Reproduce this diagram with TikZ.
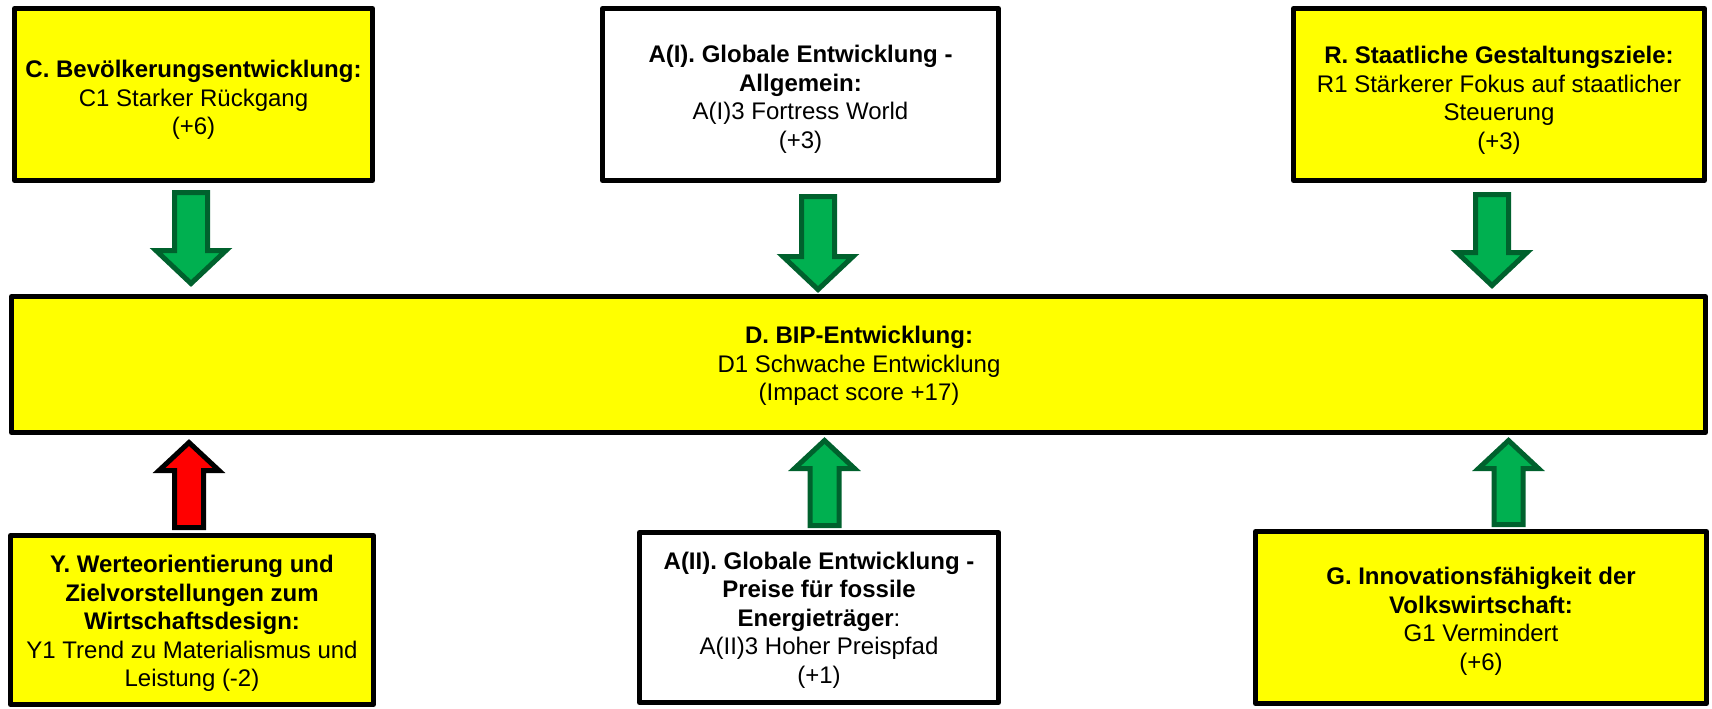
\documentclass[tikz,border=0pt]{standalone}
\usepackage{fontspec}
\setmainfont{Liberation Sans}
\usetikzlibrary{calc}

\definecolor{boxyellow}{RGB}{255,255,0}
\definecolor{arrowgreen}{RGB}{0,176,80}
\definecolor{arrowgreenline}{RGB}{0,97,45}
\definecolor{arrowred}{RGB}{255,0,0}

% Block arrow from a tail coordinate to a tip coordinate (vertical only).
% #1 style, #2 tail, #3 tip, #4 shaft half width, #5 head half width, #6 head length
\newcommand\blockarrow[6]{%
  \draw[#1] let \p1=(#2), \p2=(#3), \n1={sign(\y1-\y2)} in
    (\x1-#4,\y1) -- (\x1-#4,\y2+\n1*#6) -- (\x1-#5,\y2+\n1*#6) -- (\x2,\y2)
    -- (\x1+#5,\y2+\n1*#6) -- (\x1+#4,\y2+\n1*#6) -- (\x1+#4,\y1) -- cycle;}

\tikzset{
  factorbox/.style={draw=black, line width=2.5pt, line join=round, rectangle, inner sep=0pt},
  yellowbox/.style={factorbox, fill=boxyellow},
  whitebox/.style={factorbox, fill=white},
  boxtext/.style={align=center, inner sep=0pt, font=\fontsize{12}{14.25}\selectfont},
  greenarrow/.style={fill=arrowgreen, draw=arrowgreenline, line width=2.5pt, line join=miter},
  redarrow/.style={fill=arrowred, draw=black, line width=2.5pt, line join=miter},
}

\begin{document}
\begin{tikzpicture}[x=0.5pt,y=-0.5pt]
\useasboundingbox (0,0) rectangle (1712,708);

% top row
\node[yellowbox, minimum width=179pt, minimum height=86pt] (C) at (193.5,94.5) {};
\node[boxtext] (Ctext) at (193.5,100) {\textbf{C. Bevölkerungsentwicklung:}\\C1 Starker Rückgang\\(+6)};

\node[whitebox, minimum width=198pt, minimum height=86pt] (AI) at (800.5,94.5) {};
\node[boxtext] (AItext) at (800.5,99.5) {\textbf{A(I). Globale Entwicklung -}\\\textbf{Allgemein:}\\A(I)3 Fortress World\\(+3)};

\node[yellowbox, minimum width=205.5pt, minimum height=86pt] (R) at (1499,94.5) {};
\node[boxtext] (Rtext) at (1499,100.5) {\textbf{R. Staatliche Gestaltungsziele:}\\R1 Stärkerer Fokus auf staatlicher\\Steuerung\\(+3)};

% central factor
\node[yellowbox, minimum width=847pt, minimum height=68pt] (D) at (858.5,364.5) {};
\node[boxtext] (Dtext) at (859,366) {\textbf{D. BIP-Entwicklung:}\\D1 Schwache Entwicklung\\(Impact score +17)};

% bottom row
\node[yellowbox, minimum width=181.5pt, minimum height=84.5pt] (Y) at (192,620) {};
\node[boxtext] (Ytext) at (192,623.5) {\textbf{Y. Werteorientierung und}\\\textbf{Zielvorstellungen zum}\\\textbf{Wirtschaftsdesign:}\\Y1 Trend zu Materialismus und\\Leistung (-2)};

\node[whitebox, minimum width=179.5pt, minimum height=85pt] (AII) at (819,617.5) {};
\node[boxtext] (AIItext) at (819,620) {\textbf{A(II). Globale Entwicklung -}\\\textbf{Preise für fossile}\\\textbf{Energieträger}:\\A(II)3 Hoher Preispfad\\(+1)};

\node[yellowbox, minimum width=225.5pt, minimum height=86pt] (G) at (1481,617.5) {};
\node[boxtext] (Gtext) at (1481,621.5) {\textbf{G. Innovationsfähigkeit der}\\\textbf{Volkswirtschaft:}\\G1 Vermindert\\(+6)};

% arrow ends
\coordinate (CT) at (191,192.5);    \coordinate (CH) at (191,283.5);
\coordinate (AIT) at (818,196.5);   \coordinate (AIH) at (818,289.5);
\coordinate (RT) at (1492,194.5);   \coordinate (RH) at (1492,285.5);
\coordinate (YT) at (189,527.5);    \coordinate (YH) at (189,442.5);
\coordinate (AIIT) at (824.5,525.5);\coordinate (AIIH) at (824.5,440.5);
\coordinate (GT) at (1508.5,524.5); \coordinate (GH) at (1508.5,440.5);

% influences on D
\blockarrow{greenarrow}{CT}{CH}{8.25pt}{17.5pt}{16.5pt}
\blockarrow{greenarrow}{AIT}{AIH}{8.25pt}{17.5pt}{16.5pt}
\blockarrow{greenarrow}{RT}{RH}{8.25pt}{17.5pt}{16.5pt}
\blockarrow{redarrow}{YT}{YH}{7.25pt}{15pt}{14pt}
\blockarrow{greenarrow}{AIIT}{AIIH}{7.25pt}{15pt}{14pt}
\blockarrow{greenarrow}{GT}{GH}{7.25pt}{15pt}{14pt}
\end{tikzpicture}
\end{document}
